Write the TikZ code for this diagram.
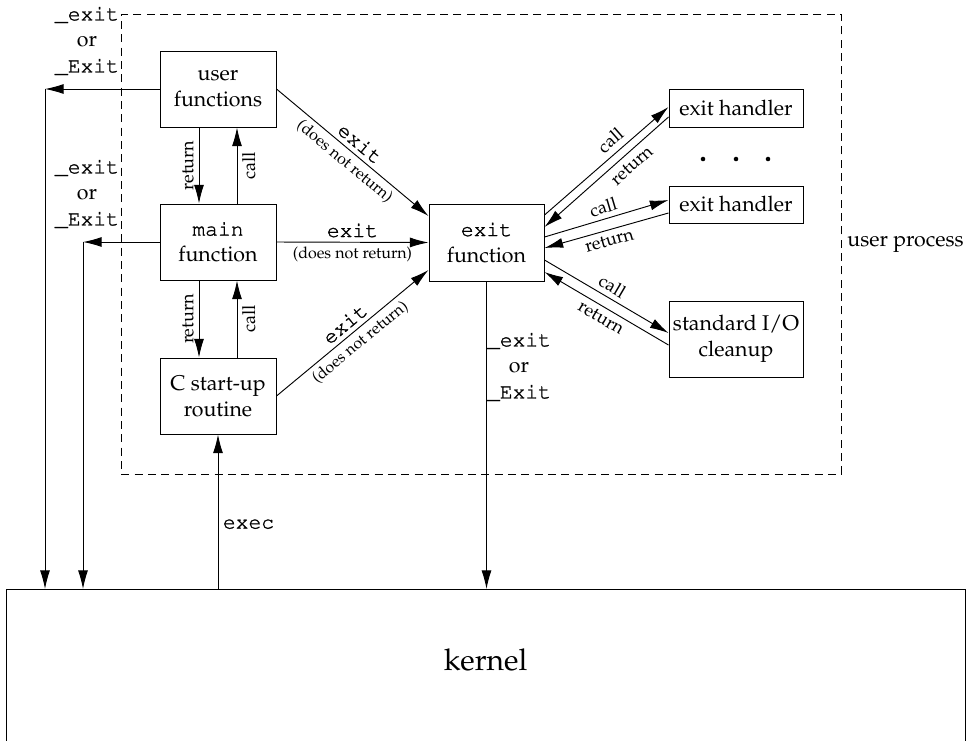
\documentclass[tikz,border=0pt]{standalone}
\usepackage[T1]{fontenc}
\usepackage{mathpazo}
\renewcommand{\ttdefault}{pcr}
\usetikzlibrary{arrows.meta,calc}
\newcommand{\mt}[1]{\special{pdf:literal direct 2 Tr 0.18 w}{\ttfamily #1}\special{pdf:literal direct 0 Tr}}
\begin{document}
\begin{tikzpicture}[x=0.75pt,y=-0.75pt,
  every node/.style={font=\fontsize{16}{19.5}\selectfont},
  box/.style={draw, line width=0.75pt, align=center, inner sep=0pt},
  arr/.style={line width=0.7pt, -{Latex[length=14pt,width=7.5pt]}},
  small/.style={font=\fontsize{12}{14}\selectfont},
  cr/.style={font=\fontsize{13.5}{16}\selectfont, inner sep=3.5pt},
  mono/.style={font=\fontsize{16}{19.5}\selectfont},
  lbl/.style={align=center, font=\fontsize{16}{19.5}\selectfont}]
\useasboundingbox (0,0) rectangle (966,740);
\clip (0,0) rectangle (966,740);
% user process frame
\node[draw, dashed, dash pattern=on 6pt off 4pt, line width=0.6pt, anchor=north west,
      minimum width=540pt, minimum height=345pt, inner sep=0pt] (up) at (121,14) {};
\node[anchor=west, inner sep=4pt] (upl) at (up.east) {user process};
% boxes
\node[box, minimum width=87pt, minimum height=57pt] (uf) at (218,89) {user\\functions};
\node[box, minimum width=87pt, minimum height=57pt] (mf) at (218,242) {\mt{main}\\function};
\node[box, minimum width=87pt, minimum height=57pt] (cs) at (218,396) {C start-up\\routine};
\node[box, minimum width=86.25pt, minimum height=57.75pt] (ef) at (486.5,242.5) {\mt{exit}\\function};
\node[box, minimum width=100.5pt, minimum height=28.5pt] (h1) at (736,108) {exit handler};
\node[box, minimum width=100.5pt, minimum height=27.75pt] (h2) at (736,204.5) {exit handler};
\node[box, minimum width=100.5pt, minimum height=57pt] (sio) at (736,339) {standard I/O\\cleanup};
\node[draw, line width=0.75pt, anchor=north west, minimum width=719.25pt, minimum height=150pt, inner sep=0pt] (k) at (6,589) {};
\node[font=\fontsize{22.5}{27}\selectfont] (kt) at (485.5,660) {kernel};
% dots
\fill (703,159) circle[radius=1.7pt];
\fill (736,159) circle[radius=1.7pt];
\fill (768,159) circle[radius=1.7pt];
% left exits
\coordinate (c1) at (45,89);
\coordinate (c2) at (83,242);
\draw[arr] (uf.west) -- (c1);
\draw[arr] (c1) -- (c1 |- k.north);
\draw[arr] (mf.west) -- (c2);
\draw[arr] (c2) -- (c2 |- k.north);
\node[lbl] (l1) at (87,41) {\mt{\_exit}\\or\\\mt{\_Exit}};
\node[lbl] (l2) at (87,194) {\mt{\_exit}\\or\\\mt{\_Exit}};
% call / return between left boxes
\draw[arr] ($(uf.south)+(-19,0)$) -- ($(mf.north)+(-19,0)$)
  node[midway, cr, rotate=90, anchor=south] {return};
\draw[arr] ($(mf.north)+(19,0)$) -- ($(uf.south)+(19,0)$)
  node[midway, cr, rotate=90, anchor=north] {call};
\draw[arr] ($(mf.south)+(-19,0)$) -- ($(cs.north)+(-19,0)$)
  node[midway, cr, rotate=90, anchor=south] {return};
\draw[arr] ($(cs.north)+(19,0)$) -- ($(mf.south)+(19,0)$)
  node[midway, cr, rotate=90, anchor=north] {call};
% exit calls
\draw[arr] (uf.east) -- ($(ef.west)+(0,-26.5)$)
  node[midway, sloped, above, mono] {\mt{exit}}
  node[midway, sloped, below, small] {(does not return)};
\draw[arr] (mf.east) -- (ef.west)
  node[midway, above, mono] {\mt{exit}}
  node[midway, below, small] {(does not return)};
\draw[arr] (cs.east) -- ($(ef.west)+(0,27.5)$)
  node[midway, sloped, above, mono] {\mt{exit}}
  node[midway, sloped, below, small] {(does not return)};
% exec
\draw[arr] (cs.south |- k.north) -- (cs.south)
  node[pos=0.42, right, mono] {\mt{exec}};
% exit function to kernel
\draw[arr] (ef.south) -- (ef.south |- k.north);
\node[lbl] (l3) at (519,367) {\mt{\_exit}\\or\\\mt{\_Exit}};
% handlers
\draw[arr] ($(ef.east)+(0,-27.5)$) -- ($(h1.west)+(0,-1)$)
  node[pos=0.6, sloped, above=1pt, cr] {call};
\draw[arr] ($(h1.west)+(0,9)$) -- ($(ef.east)+(0,-15.5)$)
  node[pos=0.36, sloped, below=1pt, cr] {return};
\draw[arr] ($(ef.east)+(0,-5.5)$) -- ($(h2.west)+(0,-4.5)$)
  node[midway, sloped, above, cr] {call};
\draw[arr] ($(h2.west)+(0,8.5)$) -- ($(ef.east)+(0,5.5)$)
  node[midway, sloped, below, cr] {return};
\draw[arr] ($(ef.east)+(0,17.5)$) -- ($(sio.west)+(0,-6)$)
  node[midway, sloped, above, cr] {call};
\draw[arr] ($(sio.west)+(0,6)$) -- ($(ef.east)+(0,29.5)$)
  node[midway, sloped, below, cr] {return};
\end{tikzpicture}
\end{document}
